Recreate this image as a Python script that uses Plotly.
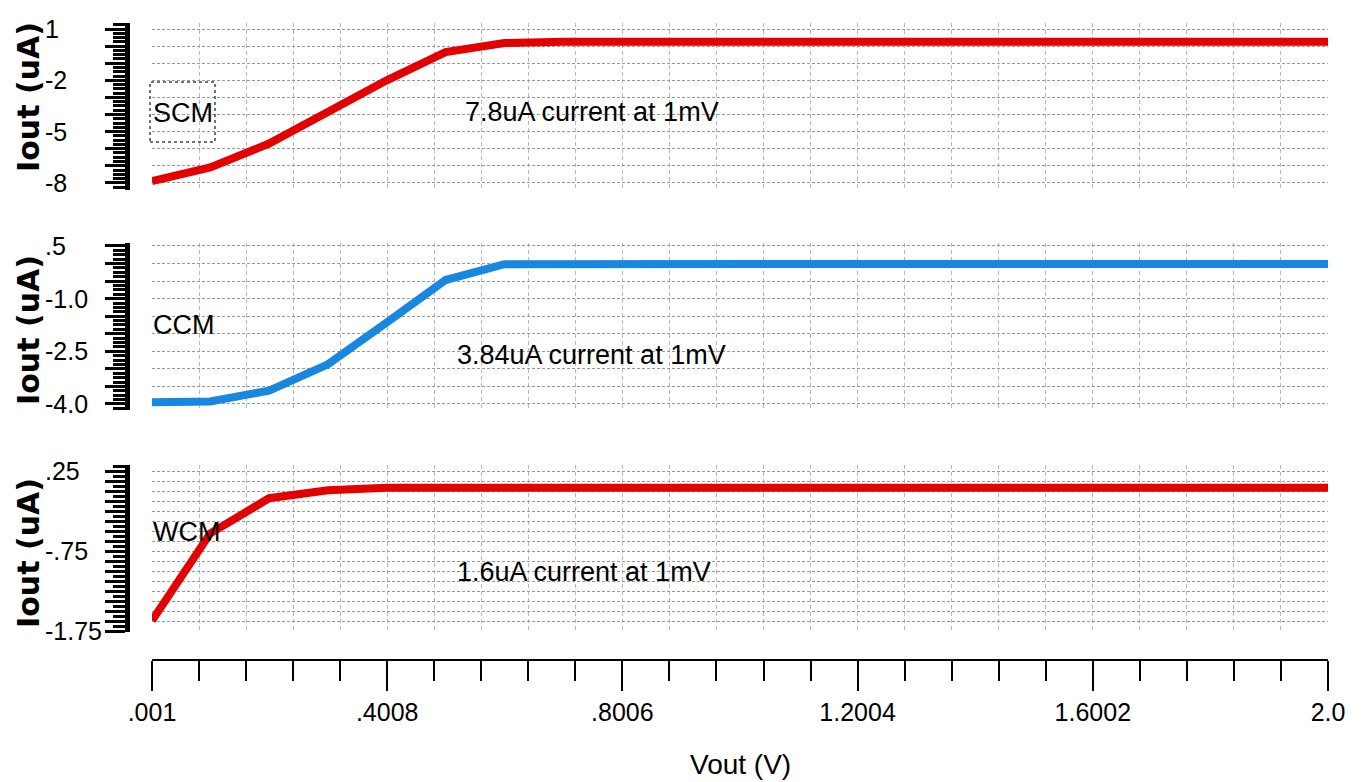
import plotly.graph_objects as go

W, H = 1361, 782

# ---------------- data ----------------
vout = [0.001, 0.1, 0.2, 0.3, 0.4, 0.5, 0.6, 0.7, 0.8, 0.9, 1.0,
        1.1, 1.2, 1.3, 1.4, 1.5, 1.6, 1.7, 1.8, 1.9, 2.0]
scm = [-7.9, -7.1, -5.7, -3.8, -2.0, -0.35, 0.18, 0.25, 0.26, 0.26, 0.26,
       0.26, 0.26, 0.26, 0.26, 0.26, 0.26, 0.26, 0.26, 0.26, 0.26]
ccm = [-3.95, -3.93, -3.62, -2.87, -1.68, -0.47, -0.02, -0.01, -0.01, -0.01, -0.01,
       -0.01, -0.01, -0.01, -0.01, -0.01, -0.01, -0.01, -0.01, -0.01, -0.01]
wcm = [-1.62, -0.53, -0.09, 0.01, 0.04, 0.04, 0.04, 0.04, 0.04, 0.04, 0.04,
       0.04, 0.04, 0.04, 0.04, 0.04, 0.04, 0.04, 0.04, 0.04, 0.04]

x_tickvals = [0.001, 0.4008, 0.8006, 1.2004, 1.6002, 2.0]
x_ticktext = [".001", ".4008", ".8006", "1.2004", "1.6002", "2.0"]

scm_tickvals = [1, -2, -5, -8]
scm_ticktext = ["1", "-2", "-5", "-8"]
ccm_tickvals = [0.5, -1.0, -2.5, -4.0]
ccm_ticktext = [".5", "-1.0", "-2.5", "-4.0"]
wcm_tickvals = [0.25, -0.75, -1.75]
wcm_ticktext = [".25", "-.75", "-1.75"]

panel_names = ["SCM", "CCM", "WCM"]
notes = ["7.8uA current at 1mV", "3.84uA current at 1mV", "1.6uA current at 1mV"]

# ---------------- styling ----------------
RED = "#e40000"
BLUE = "#1787e0"
FONT = "Liberation Sans, Arial, Helvetica, sans-serif"
BOLD = "DejaVu Sans, Verdana, sans-serif"
OFF = 8  # page (body margin) offset compensation

def px_x(p):
    return (p - OFF) / W

def px_y(p):
    return 1 - (p - OFF) / H

xdom = [px_x(152), px_x(1328)]
ypos = px_x(127)

fig = go.Figure()
fig.add_trace(go.Scatter(x=vout, y=scm, mode="lines", line=dict(color=RED, width=8),
                         xaxis="x", yaxis="y", showlegend=False))
fig.add_trace(go.Scatter(x=vout, y=ccm, mode="lines", line=dict(color=BLUE, width=8),
                         xaxis="x2", yaxis="y2", showlegend=False))
fig.add_trace(go.Scatter(x=vout, y=wcm, mode="lines", line=dict(color=RED, width=8),
                         xaxis="x3", yaxis="y3", showlegend=False))

vgrid = dict(showgrid=True, gridcolor="#b8b8b8", griddash="4px,3px", gridwidth=1)
xminor_grid = dict(showgrid=True, gridcolor="#b8b8b8", griddash="4px,3px", gridwidth=1,
                   tickmode="linear", tick0=0.001, dtick=0.07996)

common_x = dict(range=[0.001, 2.0], domain=xdom, zeroline=False, automargin=False,
                tickmode="array", tickvals=x_tickvals, ticktext=x_ticktext)

def yax(rng, dom, dtick, mdtick):
    return dict(range=rng, domain=dom, anchor="free", position=ypos, automargin=False,
                showline=True, linewidth=5, linecolor="black",
                ticks="outside", ticklen=20, tickwidth=3, tickcolor="black",
                tickmode="linear", tick0=0, dtick=dtick,
                showticklabels=False, zeroline=False,
                showgrid=True, gridcolor="#9a9a9a", griddash="3px,2px", gridwidth=1,
                minor=dict(ticks="outside", ticklen=12, tickwidth=3, tickcolor="black",
                           tickmode="linear", tick0=0, dtick=mdtick, showgrid=False))

fig.update_layout(
    width=W, height=H, margin=dict(l=0, r=0, t=0, b=0, pad=0),
    paper_bgcolor="white", plot_bgcolor="white",
    xaxis=dict(**common_x, anchor="y", ticks="", showticklabels=False, showline=False,
               **vgrid, minor=dict(**xminor_grid)),
    xaxis2=dict(**common_x, anchor="y2", matches="x", ticks="", showticklabels=False,
                showline=False, **vgrid, minor=dict(**xminor_grid)),
    xaxis3=dict(**common_x, anchor="free", position=px_y(660), matches="x",
                showline=True, linewidth=2, linecolor="black",
                showticklabels=True, ticks="outside", ticklen=30, tickwidth=2, tickcolor="black",
                tickfont=dict(family=FONT, size=25, color="black"),
                **vgrid,
                minor=dict(**xminor_grid, ticks="outside", ticklen=20, tickwidth=2,
                           tickcolor="black")),
    yaxis=yax([-8.415, 1.351], [px_y(190), px_y(23)], 1, 0.25),
    yaxis2=yax([-4.172, 0.585], [px_y(410), px_y(243)], 0.5, 0.125),
    yaxis3=yax([-1.7625, 0.325], [px_y(632), px_y(465)], 0.125, 0.0625),
)

ann = []
# left-aligned y tick labels
for yref, vals, texts in [("y", scm_tickvals, scm_ticktext),
                          ("y2", ccm_tickvals, ccm_ticktext),
                          ("y3", wcm_tickvals, wcm_ticktext)]:
    for v, t in zip(vals, texts):
        ann.append(dict(x=px_x(43), xref="paper", y=v, yref=yref, text=t,
                        xanchor="left", yanchor="middle", showarrow=False,
                        font=dict(family=FONT, size=25, color="black")))

# y axis titles
for yc in [97, 330, 553]:
    ann.append(dict(x=px_x(28), y=px_y(yc), xref="paper", yref="paper",
                    text="<b>Iout (uA)</b>", textangle=-90, showarrow=False,
                    xanchor="center", yanchor="middle",
                    font=dict(family=BOLD, size=30, color="black")))

# panel names
for name, yc in zip(panel_names, [113, 325, 532]):
    ann.append(dict(x=px_x(151), y=px_y(yc), xref="paper", yref="paper", text=name,
                    xanchor="left", yanchor="middle", showarrow=False,
                    font=dict(family=FONT, size=27, color="black")))

# notes
for note, xl, yc in zip(notes, [463, 455, 455], [112, 355, 572]):
    ann.append(dict(x=px_x(xl), y=px_y(yc), xref="paper", yref="paper", text=note,
                    xanchor="left", yanchor="middle", showarrow=False,
                    font=dict(family=FONT, size=27, color="black")))

# x title
ann.append(dict(x=px_x(740), y=px_y(764), xref="paper", yref="paper", text="Vout (V)",
                xanchor="center", yanchor="middle", showarrow=False,
                font=dict(family=FONT, size=28, color="black")))

fig.update_layout(annotations=ann)

# dashed box around SCM label
fig.add_shape(type="rect", xref="paper", yref="paper",
              x0=px_x(150), x1=px_x(215), y0=px_y(142), y1=px_y(82),
              line=dict(color="#444", width=1.5, dash="dot"), fillcolor="rgba(0,0,0,0)")

fig.write_html("out.html")
